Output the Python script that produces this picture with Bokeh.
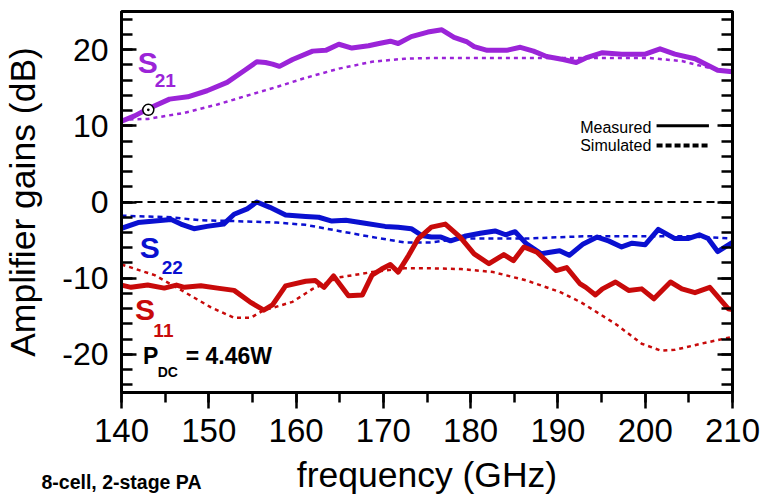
from bokeh.plotting import figure
from bokeh.models import (Range1d, LinearAxis, SingleIntervalTicker, FixedTicker, Span, Label,
                          CustomJSTickFormatter)
from bokeh.embed import file_html
from bokeh.resources import INLINE

# ---------------- data ----------------
freq_s21_meas = [140, 141.5, 143, 145.5, 147.6, 149.8, 152.1, 154, 155.5, 156.5, 157.3, 158.1,
                 159.6, 161.9, 163.4, 164.9, 166.4, 168.3, 169.5, 170.8, 171.7, 173.2, 175.1,
                 176.7, 178.1, 179.6, 180.4, 181.9, 184.1, 185.7, 187.2, 188.7, 190.6, 192.1,
                 193.2, 195.1, 197.3, 200, 201.7, 203.4, 205.7, 208.3, 210]
s21_meas = [10.6, 11.3, 12.2, 13.5, 13.8, 14.6, 15.7, 17.2, 18.4, 18.3, 18.1, 17.8,
            18.7, 19.8, 19.9, 20.7, 20.2, 20.5, 20.8, 21.1, 20.8, 21.7, 22.3,
            22.6, 21.6, 21.0, 20.4, 19.9, 19.9, 20.3, 19.8, 19.1, 18.7, 18.3,
            18.9, 19.6, 19.4, 19.4, 20.1, 19.4, 18.8, 17.3, 17.1]

freq_s21_sim = [140, 143, 147.2, 151, 154.8, 157.8, 161.1, 164.9, 168.7, 172.4, 175.5,
                180, 185, 190, 195, 200.4, 204.2, 208, 210]
s21_sim = [10.8, 10.9, 11.7, 12.8, 14.1, 15.1, 16.3, 17.5, 18.4, 18.8, 18.9,
           18.9, 18.9, 18.9, 18.9, 18.9, 18.5, 17.4, 17.0]

freq_s22_meas = [140, 141.9, 145.7, 146.8, 148.3, 149.8, 151.7, 152.9, 154.4, 155.5, 157,
                 158.8, 161.1, 162.6, 164.1, 165.7, 167.9, 170.2, 171.7, 173.2, 174.4,
                 175.5, 176.6, 177.7, 179.3, 181.1, 182.8, 184, 185.1, 186.4, 188.1,
                 189.1, 190.2, 191.3, 192.9, 194.5, 195.8, 197.3, 198.5, 200, 201.5,
                 203.4, 204.9, 206.2, 207.2, 208.3, 210]
s22_meas = [-3.45, -2.7, -2.3, -2.9, -3.5, -3.2, -2.9, -1.6, -0.9, 0.0, -0.7,
            -1.7, -1.9, -2.0, -2.5, -2.4, -2.8, -3.2, -3.3, -3.5, -4.4,
            -4.6, -4.6, -5.1, -4.5, -4.1, -3.8, -4.3, -3.9, -5.5, -6.8,
            -6.6, -6.4, -7.0, -5.5, -4.6, -5.1, -5.9, -5.4, -5.6, -3.6,
            -4.8, -4.8, -4.3, -4.8, -6.5, -5.3]

freq_s22_sim = [140, 145.7, 149, 152.9, 157.8, 161.1, 164.9, 168.7, 172.4, 175.5, 178.9,
                186.4, 192.9, 200, 205, 210]
s22_sim = [-1.8, -2.0, -2.4, -2.5, -2.7, -3.0, -3.8, -4.6, -5.3, -5.3, -4.8,
           -4.8, -4.5, -4.5, -4.5, -4.8]

freq_s11_meas = [140, 141.1, 143, 144.9, 146.3, 147.2, 149.1, 151, 152.9, 154.7, 156.3,
                 157.3, 158.8, 161.1, 162.2, 163.2, 164.3, 166, 167.6, 168.7, 169.8,
                 170.8, 171.7, 172.9, 174, 175.5, 177.1, 178.8, 180.4, 182.1, 183.8,
                 184.9, 186.1, 187.6, 189.8, 191, 192.5, 193.2, 194.3, 195.1, 196.6,
                 198.1, 199.6, 201, 202.9, 204.2, 205.7, 207.4, 209.5, 210]
s11_meas = [-10.9, -11.2, -10.9, -11.3, -10.9, -11.2, -11.0, -11.3, -11.6, -13.1, -14.2,
            -13.5, -11.0, -10.4, -10.3, -11.2, -9.7, -12.3, -12.2, -9.6, -8.8,
            -8.2, -9.2, -7.0, -4.8, -3.3, -2.9, -4.6, -6.8, -8.1, -6.9,
            -7.7, -5.9, -6.6, -9.0, -8.6, -10.7, -11.2, -12.2, -11.4, -10.5,
            -11.6, -11.4, -12.7, -10.5, -11.4, -11.9, -11.2, -14.0, -14.1]

freq_s11_sim = [140, 143.8, 147.2, 150.2, 152.9, 154.8, 156.3, 157.3, 159.6, 161.9, 164.9,
                168.7, 172.4, 175.5, 178.9, 182.6, 186.4, 190.2, 192.7, 196.6, 199.6,
                201.8, 203.4, 206.4, 210]
s11_sim = [-8.2, -9.6, -11.8, -13.8, -15.2, -15.2, -14.2, -13.9, -13.1, -11.4, -9.9,
           -9.2, -8.7, -8.7, -8.8, -9.2, -10.3, -11.8, -13.2, -16.0, -18.6,
           -19.5, -19.4, -18.6, -17.7]

marker_freq = [143.07]
marker_gain = [12.1]

x_tick_interval = 10
y_tick_interval = 10
x_title = "frequency (GHz)"
y_title = "Amplifier gains (dB)"
note_text = "8-cell, 2-stage PA"

PURPLE = "#9B24D8"
BLUE = "#0A10D0"
RED = "#C80A0A"
FONT = "Liberation Sans"

p = figure(width=767, height=497, output_backend="svg", toolbar_location=None,
           x_range=Range1d(140, 210), y_range=Range1d(-25, 25),
           min_border_left=116, min_border_right=35, min_border_top=11, min_border_bottom=103)
p.grid.visible = False
p.outline_line_color = "black"
p.outline_line_width = 3
p.background_fill_color = "white"
p.border_fill_color = "white"

int_fmt = CustomJSTickFormatter(code="return tick.toFixed(0)")

# main x axis (ticks + numbers)
xa = p.xaxis[0]
xa.ticker = SingleIntervalTicker(interval=x_tick_interval, num_minor_ticks=2)
xa.formatter = int_fmt
xa.axis_line_width = 3
xa.major_tick_in = 0
xa.major_tick_out = 16
xa.minor_tick_in = 0
xa.minor_tick_out = 10
xa.major_tick_line_width = 2.5
xa.minor_tick_line_width = 2.5
xa.major_label_text_font = FONT
xa.major_label_text_font_size = "33px"
xa.major_label_text_color = "black"
xa.major_label_standoff = 10

# second x axis: note text as tick label + axis title
xb = LinearAxis(ticker=FixedTicker(ticks=[140]), major_label_overrides={140: note_text})
xb.axis_line_color = None
xb.major_tick_line_color = None
xb.minor_tick_line_color = None
xb.major_tick_in = 0
xb.major_tick_out = 0
xb.major_label_standoff = 26
xb.major_label_text_font = FONT
xb.major_label_text_font_size = "19.5px"
xb.major_label_text_font_style = "bold"
xb.major_label_text_color = "black"
xb.axis_label = x_title
xb.axis_label_text_font = FONT
xb.axis_label_text_font_size = "35.5px"
xb.axis_label_text_font_style = "normal"
xb.axis_label_text_color = "black"
xb.axis_label_standoff = -41
p.add_layout(xb, "below")

# left y axis
ya = p.yaxis[0]
ya.ticker = SingleIntervalTicker(interval=y_tick_interval, num_minor_ticks=5)
ya.formatter = int_fmt
ya.axis_line_width = 3
ya.major_tick_in = 15
ya.major_tick_out = 0
ya.minor_tick_in = 11
ya.minor_tick_out = 0
ya.major_tick_line_width = 2.5
ya.minor_tick_line_width = 2.5
ya.major_label_text_font = FONT
ya.major_label_text_font_size = "32px"
ya.major_label_text_color = "black"
ya.major_label_standoff = 13
ya.axis_label = y_title
ya.axis_label_text_font = FONT
ya.axis_label_text_font_size = "35.5px"
ya.axis_label_text_font_style = "normal"
ya.axis_label_text_color = "black"
ya.axis_label_standoff = 16

# right y axis (ticks only)
ra = LinearAxis(ticker=SingleIntervalTicker(interval=y_tick_interval, num_minor_ticks=5),
                formatter=CustomJSTickFormatter(code="return ''"))
ra.axis_line_width = 3
ra.major_tick_in = 15
ra.major_tick_out = 0
ra.minor_tick_in = 11
ra.minor_tick_out = 0
ra.major_tick_line_width = 2.5
ra.minor_tick_line_width = 2.5
ra.major_label_standoff = 0
p.add_layout(ra, "right")

# zero reference line
p.add_layout(Span(location=0, dimension="width", line_color="black",
                  line_width=2, line_dash="8 5"))

# simulated curves
p.line(freq_s21_sim, s21_sim, line_color=PURPLE, line_width=2.5, line_dash="4 4")
p.line(freq_s22_sim, s22_sim, line_color=BLUE, line_width=2.5, line_dash="5 4")
p.line(freq_s11_sim, s11_sim, line_color=RED, line_width=2.5, line_dash="4 4")

# measured curves
p.line(freq_s21_meas, s21_meas, line_color=PURPLE, line_width=5, line_join="round", line_cap="round")
p.line(freq_s22_meas, s22_meas, line_color=BLUE, line_width=5, line_join="round", line_cap="round")
p.line(freq_s11_meas, s11_meas, line_color=RED, line_width=5, line_join="round", line_cap="round")

p.scatter(marker_freq, marker_gain, marker="circle_dot", size=11,
          fill_color="white", line_color="black", line_width=1.5)

# legend (manual)
leg_x = [201.3, 207.3]
p.line(leg_x, [10.0, 10.0], line_color="black", line_width=3)
p.line(leg_x, [7.4, 7.4], line_color="black", line_width=4, line_dash="6 3")


def add_text(x, y, text, size, color, bold=True, align="left"):
    p.add_layout(Label(x=x, y=y, text=text, text_font=FONT, text_font_size=size,
                       text_font_style="bold" if bold else "normal", text_color=color,
                       text_align=align, text_baseline="alphabetic"))


add_text(200.7, 9.77, "Measured", "16px", "black", bold=False, align="right")
add_text(200.7, 7.37, "Simulated", "16px", "black", bold=False, align="right")

# curve labels
add_text(141.85, 18.35, "S", "30px", PURPLE)
add_text(143.8, 15.9, "21", "19px", PURPLE)
add_text(142.1, -5.95, "S", "30px", BLUE)
add_text(144.6, -8.6, "22", "19px", BLUE)
add_text(141.55, -14.05, "S", "30px", RED)
add_text(143.65, -16.9, "11", "19px", RED)
add_text(142.45, -20.24, "P", "23px", "black")
add_text(144.15, -22.3, "DC", "14px", "black")
add_text(147.35, -20.24, "= 4.46W", "23px", "black")

open("out.html", "w").write(file_html(p, INLINE))
